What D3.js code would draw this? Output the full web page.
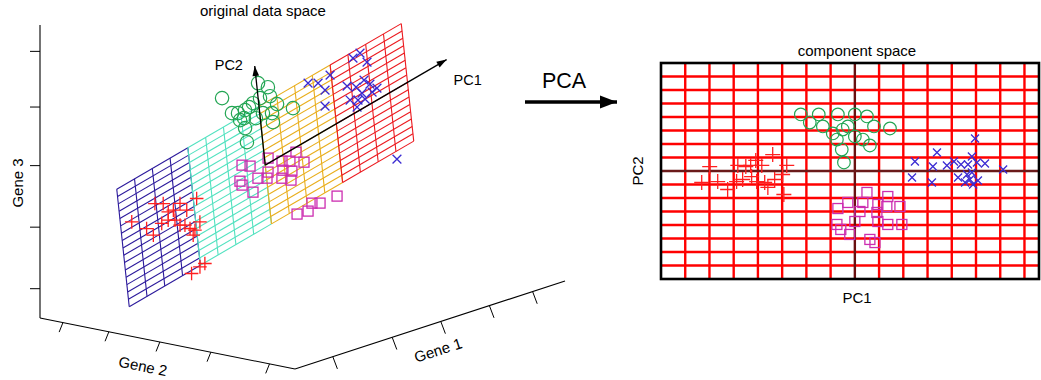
<!DOCTYPE html>
<html><head><meta charset="utf-8">
<script src="https://cdn.jsdelivr.net/npm/d3@7"></script>
<style>
body{margin:0;background:#fff}
svg{display:block}
text{font-family:"Liberation Sans",Arial,Helvetica,sans-serif;fill:#000}
</style>
</head><body>
<svg id="chart" width="1041" height="380"></svg>
<script>
// ================= DATA =================
// Component space scores (PC1, PC2) for the four sample groups
const plusPC = [[-5.99,0.33],[-4.83,0.41],[-4.50,0.33],[-4.09,0.78],[-3.84,0.41],[-3.39,1.22],[-2.81,0.41],[-6.32,-0.85],[-5.66,-0.78],[-5.25,-1.37],[-4.88,-0.78],[-4.63,-0.63],[-4.26,-0.41],[-4.05,-0.78],[-3.59,-1.22],[-3.31,-0.63],[-2.98,-0.26],[-2.93,-1.74],[-3.72,-0.85],[-4.30,0.41]];
const circlePC = [[-2.23,4.19],[-1.86,3.59],[-1.49,4.19],[-1.32,3.30],[-0.91,2.78],[-0.70,4.19],[-0.50,3.07],[-0.74,2.33],[-0.54,1.59],[-0.45,0.63],[-0.29,3.30],[0,4.19],[0.50,4.04],[0,2.56],[0.33,2.33],[0.62,1.89],[0.79,3.30],[1.45,3.15]];
const squarePC = [[0.50,-1.59],[1.36,-1.89],[-0.29,-2.33],[0.33,-2.33],[0.95,-2.48],[1.32,-2.63],[1.86,-2.63],[0,-3.74],[0.91,-3.07],[0.95,-3.74],[1.36,-3.96],[1.94,-3.96],[-0.21,-4.70],[0.62,-5.07],[0.83,-5.30],[-0.70,-2.78],[-0.74,-3.96],[-0.58,-4.33],[0.21,-3.0]];
const crossPC = [[4.96,2.41],[3.39,1.37],[2.48,0.70],[3.22,0.33],[3.80,0.41],[4.09,0.70],[4.38,0.48],[4.67,0.48],[4.83,1.07],[5.04,0.63],[5.37,0.56],[6.12,0.11],[2.36,-0.48],[3.18,-0.85],[4.26,-0.48],[4.55,-0.85],[4.75,-0.63],[4.88,-1.0],[5.08,-0.70],[4.63,-0.26],[4.83,-0.11]];

// Positions of the samples in the original data space, in PC-plane coordinates (as seen in the 3D view)
const plus3d = [[-6.06,3.31],[-5.62,2.69],[-5.40,1.24],[-5.12,1.09],[-4.73,1.45],[-4.41,0.09],[-3.82,0.84],[-7.39,2.69],[-6.64,0.72],[-6.32,-0.63],[-5.81,0.25],[-5.45,0.18],[-5.09,-0.32],[-4.85,-1.34],[-4.59,-1.71],[-4.34,-2.51],[-4.09,-3.10],[-3.78,-2.41],[-4.21,-3.61],[-3.75,-8.11],[-4.03,-8.18],[-4.51,-8.40]];
const circle3d = [[-1.91,11.82],[-1.47,9.15],[-1.15,8.70],[-0.76,8.56],[-0.53,8.65],[-0.86,7.61],[-0.23,6.72],[-0.86,6.26],[-0.84,4.31],[0.08,11.06],[0.58,9.80],[0.10,8.98],[0.64,8.49],[0.97,6.95],[-0.30,8.86],[0.17,6.84],[0.65,6.17],[0.65,4.94],[1.79,5.24],[-1.08,7.65]];
const square3d = [[0.19,0.69],[0.91,-0.74],[1.33,-1.33],[1.70,-0.63],[2.07,-2.51],[-1.23,1.73],[-0.81,1.01],[0.91,-1.97],[1.38,-2.76],[0.11,-1.10],[-1.43,-0.17],[-1.34,-0.83],[-0.46,-1.13],[0.02,-1.80],[0.81,-2.92],[1.28,-3.84],[-0.80,-2.55],[3.63,-9.33],[2.69,-8.96],[2.26,-8.36],[2.01,-9.09],[1.41,-8.65]];
const cross3d = [[2.73,7.33],[3.26,6.58],[3.59,5.16],[3.94,6.71],[3.50,3.11],[5.25,7.18],[5.65,7.30],[5.97,5.62],[4.78,4.03],[5.25,3.23],[5.71,3.54],[6.00,2.58],[6.35,1.54],[4.86,2.02],[5.28,1.42],[5.66,1.02],[5.19,0.60],[6.07,1.40],[7.01,-9.06],[5.53,2.02]];

// PCA model in gene space (Gene 1, Gene 2, Gene 3)
const geneMean = [3.62, 5.0, 5.0];
const loadingPC1 = [0.6586, 0.0, 0.1553];
const loadingPC2 = [-0.0656, 0.0389, 0.2771];
const pcArrowLengths = [10.2, 13.5];

// Plane grid: PC1 sections (with colours) and PC2 extent
const planeSections = [[-8,-4],[-4,0],[0,4],[4,8]];
const sectionColors = ["#2c1a9c","#52e2c0","#e9ae1c","#ec1a1f"];
const planePC2 = [-8, 8];

// 3D box axis ticks (gene units)
const gene1Ticks = [1.4, 3.6, 5.4, 7.2, 8.8];
const gene2Ticks = [0.9, 2.7, 4.7, 6.7, 9.0];
const gene3Ticks = [1.0, 3.1, 5.2, 7.2, 9.1];
const geneDomain = [0, 10];

// Component space grid
const pc1Domain = [-8, 7.6];
const pc2Domain = [-8, 8];
const pc1Grid = d3.range(-7, 8);
const pc2Grid = d3.range(-7, 8);

const groupColors = {plus:"#ff1f1f", circle:"#22a553", square:"#cc2db0", cross:"#3b2bd2"};

// ================= DRAWING =================
const svg = d3.select("#chart");

// ---- 3D projection (oblique) built from d3 scales ----
const origin = [40, 318];
const g1x = d3.scaleLinear().domain(geneDomain).range([0, 270]);
const g1y = d3.scaleLinear().domain(geneDomain).range([0, -88]);
const g2x = d3.scaleLinear().domain(geneDomain).range([0, 255]);
const g2y = d3.scaleLinear().domain(geneDomain).range([0, 51]);
const g3x = d3.scaleLinear().domain(geneDomain).range([0, 0]);
const g3y = d3.scaleLinear().domain(geneDomain).range([0, -293]);
function proj(g){
  return [origin[0] + g1x(g[0]) + g2x(g[1]) + g3x(g[2]),
          origin[1] + g1y(g[0]) + g2y(g[1]) + g3y(g[2])];
}
function fromPC(u, v){
  return [0,1,2].map(i => geneMean[i] + u*loadingPC1[i] + v*loadingPC2[i]);
}
const projPC = (u, v) => proj(fromPC(u, v));

const left = svg.append("g");
const line = d3.line();

// box axes
const gmin = geneDomain[0], gmax = geneDomain[1];
const axisPaths = [
  [proj([gmin,gmin,gmin]), proj([gmin,gmin,gmax])],
  [proj([gmin,gmin,gmin]), proj([gmin,gmax,gmin])],
  [proj([gmin,gmax,gmin]), proj([gmax,gmax,gmin])]
];
axisPaths.forEach(p => left.append("path").attr("d", line(p))
  .attr("fill","none").attr("stroke","#000").attr("stroke-width",1.1));
gene3Ticks.forEach(t => { const p = proj([gmin,gmin,t]);
  left.append("path").attr("d", line([p,[p[0]-10,p[1]]])).attr("stroke","#000").attr("stroke-width",1); });
gene2Ticks.forEach(t => { const p = proj([gmin,t,gmin]);
  left.append("path").attr("d", line([p,[p[0]-3.8,p[1]+9.5]])).attr("stroke","#000").attr("stroke-width",1); });
gene1Ticks.forEach(t => { const p = proj([t,gmax,gmin]);
  left.append("path").attr("d", line([p,[p[0]+4.6,p[1]+12.2]])).attr("stroke","#000").attr("stroke-width",1); });

// axis labels
left.append("text").attr("transform","translate(17,183) rotate(-90)")
  .attr("text-anchor","middle").attr("dominant-baseline","central").attr("font-size",15).text("Gene 3");
left.append("text").attr("transform","translate(143,366) rotate(11.3)")
  .attr("text-anchor","middle").attr("dominant-baseline","central").attr("font-size",15).text("Gene 2");
left.append("text").attr("transform","translate(438,350) rotate(-18)")
  .attr("text-anchor","middle").attr("dominant-baseline","central").attr("font-size",15).text("Gene 1");
left.append("text").attr("x",263).attr("y",16).attr("text-anchor","middle").attr("font-size",15).text("original data space");

// PCA plane grid
planeSections.forEach((sec, i) => {
  const col = sectionColors[i];
  const gg = left.append("g").attr("stroke", col).attr("stroke-width",1.1).attr("fill","none");
  d3.range(planePC2[0], planePC2[1] + 1).forEach(v => {
    gg.append("path").attr("d", line([projPC(sec[0], v), projPC(sec[1], v)]));
  });
  d3.range(sec[0], sec[1] + 1).forEach(u => {
    gg.append("path").attr("d", line([projPC(u, planePC2[0]), projPC(u, planePC2[1])]));
  });
});

// markers
function drawMarker(g, type, x, y, s){
  const c = groupColors[type];
  if (type === "circle") {
    g.append("circle").attr("cx",x).attr("cy",y).attr("r",s.circle).attr("fill","none").attr("stroke",c).attr("stroke-width",1.2);
  } else if (type === "square") {
    const h = s.square;
    g.append("rect").attr("x",x-h).attr("y",y-h).attr("width",2*h).attr("height",2*h).attr("fill","none").attr("stroke",c).attr("stroke-width",1.3);
  } else if (type === "plus") {
    const h = s.plus;
    g.append("path").attr("d",`M${x-h},${y}H${x+h}M${x},${y-h}V${y+h}`).attr("stroke",c).attr("stroke-width",1.3).attr("fill","none");
  } else {
    const h = s.cross;
    g.append("path").attr("d",`M${x-h},${y-h}L${x+h},${y+h}M${x-h},${y+h}L${x+h},${y-h}`).attr("stroke",c).attr("stroke-width",1.3).attr("fill","none");
  }
}
const leftSizes = {circle:6.7, square:5, plus:6.8, cross:4.4};
const leftPts = left.append("g");
[["circle",circle3d],["square",square3d],["plus",plus3d],["cross",cross3d]].forEach(([t, arr]) => {
  arr.forEach(d => { const p = projPC(d[0], d[1]); drawMarker(leftPts, t, p[0], p[1], leftSizes); });
});

// PC axes arrows
function arrow(g, p0, p1, len, hw, sw){
  g.append("path").attr("d", line([p0, p1])).attr("stroke","#000").attr("stroke-width",sw).attr("fill","none");
  const dx = p1[0]-p0[0], dy = p1[1]-p0[1], L = Math.hypot(dx,dy);
  const ux = dx/L, uy = dy/L;
  const bx = p1[0]-ux*len, by = p1[1]-uy*len;
  g.append("path").attr("d", line([p1,[bx-uy*hw, by+ux*hw],[bx+uy*hw, by-ux*hw]])+"Z").attr("fill","#000");
}
const o = projPC(0,0);
const pc1Tip = projPC(pcArrowLengths[0], 0);
const pc2Tip = projPC(0, pcArrowLengths[1]);
arrow(left, o, pc1Tip, 10, 3.3, 1.3);
arrow(left, o, pc2Tip, 10, 3.3, 1.3);
left.append("text").attr("x", pc1Tip[0]+7).attr("y", pc1Tip[1]+25).attr("font-size",14.5).text("PC1");
left.append("text").attr("x", pc2Tip[0]-40).attr("y", pc2Tip[1]+4).attr("font-size",14.5).text("PC2");

// ---- PCA arrow ----
const mid = svg.append("g");
mid.append("text").attr("x",564).attr("y",88).attr("text-anchor","middle").attr("font-size",21.5).text("PCA");
arrow(mid, [525,102], [617,102], 17, 6.5, 3.6);

// ---- component space ----
const x2 = d3.scaleLinear().domain(pc1Domain).range([661, 1039]);
const y2 = d3.scaleLinear().domain(pc2Domain).range([279, 63]);
const right = svg.append("g");
const grid = right.append("g").attr("stroke","#ff0000").attr("stroke-width",2.4);
pc1Grid.filter(v => v !== 0).forEach(v => grid.append("line").attr("x1",x2(v)).attr("x2",x2(v)).attr("y1",y2(pc2Domain[0])).attr("y2",y2(pc2Domain[1])));
pc2Grid.filter(v => v !== 0).forEach(v => grid.append("line").attr("y1",y2(v)).attr("y2",y2(v)).attr("x1",x2(pc1Domain[0])).attr("x2",x2(pc1Domain[1])));
right.append("line").attr("x1",x2(0)).attr("x2",x2(0)).attr("y1",y2(pc2Domain[0])).attr("y2",y2(pc2Domain[1])).attr("stroke","#6a1010").attr("stroke-width",2.4);
right.append("line").attr("y1",y2(0)).attr("y2",y2(0)).attr("x1",x2(pc1Domain[0])).attr("x2",x2(pc1Domain[1])).attr("stroke","#6a1a1a").attr("stroke-width",2.4);
right.append("rect").attr("x",x2(pc1Domain[0])).attr("y",y2(pc2Domain[1]))
  .attr("width",x2(pc1Domain[1])-x2(pc1Domain[0])).attr("height",y2(pc2Domain[0])-y2(pc2Domain[1]))
  .attr("fill","none").attr("stroke","#000").attr("stroke-width",2.6);

const rightSizes = {circle:6.3, square:5, plus:7.5, cross:4};
const rightPts = right.append("g");
[["circle",circlePC],["square",squarePC],["plus",plusPC],["cross",crossPC]].forEach(([t, arr]) => {
  arr.forEach(d => drawMarker(rightPts, t, x2(d[0]), y2(d[1]), rightSizes));
});

right.append("text").attr("x",857).attr("y",56).attr("text-anchor","middle").attr("font-size",15).text("component space");
right.append("text").attr("x",857).attr("y",303).attr("text-anchor","middle").attr("font-size",15).text("PC1");
right.append("text").attr("transform","translate(637,171) rotate(-90)").attr("text-anchor","middle")
  .attr("dominant-baseline","central").attr("font-size",15).text("PC2");
</script>
</body></html>
